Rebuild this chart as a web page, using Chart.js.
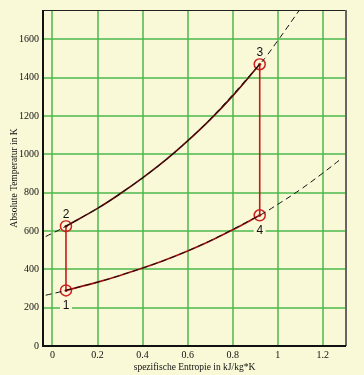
<!DOCTYPE html>
<html>
<head>
<meta charset="utf-8">
<script src="https://cdn.jsdelivr.net/npm/chart.js@4/dist/chart.umd.min.js"></script>
<style>
  html, body { margin: 0; padding: 0; background: #f9f9d8; }
  #wrap { width: 364px; height: 375px; }
</style>
</head>
<body>
<div id="wrap"><canvas id="ts" width="364" height="375"></canvas></div>
<script>
// values
const entropy = [0.06, 0.2, 0.3, 0.4, 0.5, 0.6, 0.7, 0.8, 0.92];
const tempHigh = [625, 718, 794, 877, 968, 1070, 1181, 1305, 1470];
const tempLow = [290, 333, 368, 407, 449, 496, 548, 606, 682];

// dashed continuation of both isobars
const extHighS = [-0.03, 0.06, 0.3, 0.6, 0.92, 1.0, 1.1];
const extHighT = [571, 625, 794, 1070, 1470, 1593, 1759];
const extLowS = [-0.03, 0.06, 0.3, 0.6, 0.92, 1.0, 1.1, 1.2, 1.285];
const extLowT = [265, 290, 368, 496, 682, 739, 816, 902, 980];

// cycle points 1..4
const pointNames = ["1", "2", "3", "4"];
const pointS = [0.06, 0.06, 0.92, 0.92];
const pointT = [290, 625, 1470, 682];

const xTicks = [0, 0.2, 0.4, 0.6, 0.8, 1, 1.2];
const yTicks = [0, 200, 400, 600, 800, 1000, 1200, 1400, 1600];

const xy = (xs, ys) => xs.map((x, i) => ({ x: x, y: ys[i] }));

const bg = "#f9f9d8";
const green = "#4cb84c";
const serif = "'Liberation Serif', 'Times New Roman', serif";

// green grid drawn by hand so only the tick values get a line
const gridPlugin = {
  id: "grid",
  beforeDatasetsDraw(chart) {
    const a = chart.chartArea, ctx = chart.ctx;
    const xs = chart.scales.x, ys = chart.scales.y;
    ctx.save();
    ctx.strokeStyle = green;
    ctx.lineWidth = 1.5;
    ctx.beginPath();
    xTicks.forEach((v) => {
      const px = Math.round(xs.getPixelForValue(v));
      ctx.moveTo(px, a.top);
      ctx.lineTo(px, a.bottom);
    });
    yTicks.forEach((v) => {
      if (v === 0) return;
      const py = Math.round(ys.getPixelForValue(v));
      ctx.moveTo(a.left, py);
      ctx.lineTo(a.right, py);
    });
    ctx.stroke();
    ctx.restore();
  }
};

// labels next to the points, with a background box
const labelPlugin = {
  id: "pointLabels",
  afterDatasetsDraw(chart) {
    const ctx = chart.ctx;
    const xs = chart.scales.x, ys = chart.scales.y;
    ctx.save();
    ctx.font = "12px 'Liberation Sans', Arial, sans-serif";
    ctx.textAlign = "center";
    ctx.textBaseline = "middle";
    pointNames.forEach((name, i) => {
      const px = xs.getPixelForValue(pointS[i]);
      const below = i === 0 || i === 3;
      const py = ys.getPixelForValue(pointT[i]) + (below ? 14 : -13);
      ctx.fillStyle = bg;
      ctx.fillRect(px - 6, py - 7, 12, 14);
      ctx.fillStyle = "#111";
      ctx.fillText(name, px, py + 1);
    });
    ctx.restore();
  },
  afterDraw(chart) {
    // frame: thick black left/bottom, thin top, grey right
    const a = chart.chartArea, ctx = chart.ctx;
    ctx.save();
    ctx.strokeStyle = "#222";
    ctx.lineWidth = 1;
    ctx.beginPath();
    ctx.moveTo(a.left, a.top + 0.5);
    ctx.lineTo(a.right, a.top + 0.5);
    ctx.stroke();
    ctx.strokeStyle = "#666";
    ctx.lineWidth = 2;
    ctx.beginPath();
    ctx.moveTo(a.right, a.top);
    ctx.lineTo(a.right, a.bottom);
    ctx.stroke();
    ctx.strokeStyle = "#111";
    ctx.beginPath();
    ctx.moveTo(a.left, a.top);
    ctx.lineTo(a.left, a.bottom);
    ctx.lineTo(a.right, a.bottom);
    ctx.stroke();
    ctx.restore();
  }
};

const bgPlugin = {
  id: "bg",
  beforeDraw(chart) {
    const ctx = chart.ctx;
    ctx.save();
    ctx.fillStyle = bg;
    ctx.fillRect(0, 0, chart.width, chart.height);
    ctx.restore();
  }
};

const lineDefaults = { showLine: true, pointRadius: 0, fill: false, tension: 0.4 };

new Chart(document.getElementById("ts"), {
  type: "scatter",
  data: {
    datasets: [
      Object.assign({}, lineDefaults, {
        data: xy(extHighS, extHighT), borderColor: "#111", borderWidth: 1, borderDash: [6, 4]
      }),
      Object.assign({}, lineDefaults, {
        data: xy(extLowS, extLowT), borderColor: "#111", borderWidth: 1, borderDash: [6, 4]
      }),
      Object.assign({}, lineDefaults, {
        data: xy(entropy, tempHigh), borderColor: "#5e0808", borderWidth: 1.7
      }),
      Object.assign({}, lineDefaults, {
        data: xy(entropy, tempLow), borderColor: "#a01010", borderWidth: 1.7
      }),
      Object.assign({}, lineDefaults, {
        data: xy([pointS[0], pointS[1]], [pointT[0], pointT[1]]), borderColor: "#c81a1a", borderWidth: 1.6, tension: 0
      }),
      Object.assign({}, lineDefaults, {
        data: xy([pointS[2], pointS[3]], [pointT[2], pointT[3]]), borderColor: "#c81a1a", borderWidth: 1.6, tension: 0
      }),
      {
        data: xy(pointS, pointT), showLine: false, pointRadius: 5.5, pointBorderWidth: 1.5,
        pointBorderColor: "#d02020", pointBackgroundColor: "rgba(0,0,0,0)"
      },
      {
        data: xy(pointS, pointT), showLine: false, pointRadius: 1.5, pointBorderWidth: 0,
        pointBackgroundColor: "#c01818"
      }
    ]
  },
  options: {
    responsive: false,
    animation: false,
    events: [],
    layout: { padding: { top: 10, right: 18, left: 0, bottom: 0 } },
    plugins: { legend: { display: false }, tooltip: { enabled: false } },
    scales: {
      x: {
        type: "linear",
        min: -0.042,
        max: 1.303,
        afterBuildTicks: (s) => { s.ticks = xTicks.map((v) => ({ value: v })); },
        afterFit: (s) => { s.height = 29; },
        ticks: {
          padding: 3,
          color: "#111",
          font: { family: serif, size: 10 },
          callback: (v) => String(v)
        },
        grid: { display: false, drawTicks: false },
        border: { display: false },
        title: {
          display: true,
          text: "spezifische Entropie in kJ/kg*K",
          color: "#111",
          font: { family: serif, size: 9.5 },
          padding: { top: 0, bottom: 2 }
        }
      },
      y: {
        type: "linear",
        min: 0,
        max: 1753,
        afterBuildTicks: (s) => { s.ticks = yTicks.map((v) => ({ value: v })); },
        afterFit: (s) => { s.width = 43; },
        ticks: {
          padding: 4,
          color: "#111",
          font: { family: serif, size: 10 },
          callback: (v) => String(v)
        },
        grid: { display: false, drawTicks: false },
        border: { display: false },
        title: {
          display: true,
          text: "Absolute Temperatur in K",
          color: "#111",
          font: { family: serif, size: 9.5 },
          padding: { top: 9, bottom: 0 }
        }
      }
    }
  },
  plugins: [bgPlugin, gridPlugin, labelPlugin]
});
</script>
</body>
</html>
